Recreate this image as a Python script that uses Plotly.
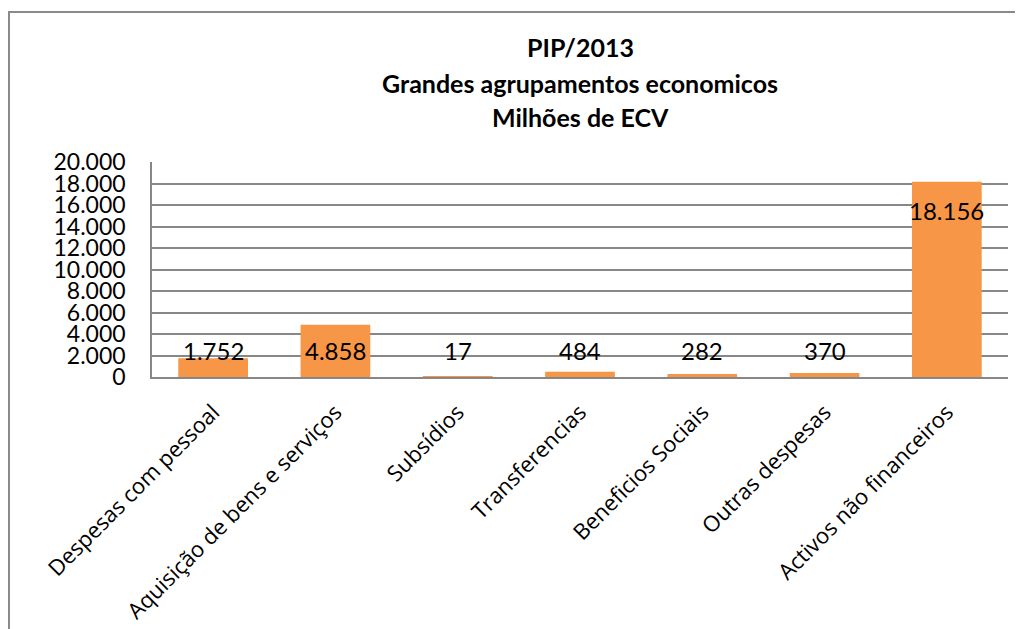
import plotly.graph_objects as go

categories = ["Despesas com pessoal", "Aquisição de bens e serviços", "Subsídios",
              "Transferencias", "Beneficios Sociais", "Outras despesas",
              "Activos não financeiros"]
values = [1752, 4858, 17, 484, 282, 370, 18156]
title_lines = ["PIP/2013", "Grandes agrupamentos economicos", "Milhões de ECV"]
y_ticks = list(range(0, 20001, 2000))

BAR = "#F79646"
GRID = "#878787"
FONT = "Lato"

fig = go.Figure()
fig.add_trace(go.Bar(x=categories, y=values, marker=dict(color=BAR, line=dict(width=0)),
                     width=0.57, hoverinfo="skip"))

# data labels (inside end, min position near base)
for c, v in zip(categories, values):
    fig.add_annotation(x=c, y=max(v - 2700, 2450), xref="x", yref="y",
                       text=f"{v:,}".replace(",", "."), showarrow=False,
                       font=dict(family=FONT, size=24, color="black"),
                       yanchor="middle")

# title lines
for t, yp in zip(title_lines, [47, 83, 117]):
    fig.add_annotation(x=0.5, xref="paper", y=(377 - yp) / 215, yref="paper",
                       xanchor="center", yanchor="middle", text=f"<b>{t}</b>",
                       showarrow=False, font=dict(family=FONT, size=25, color="black"))

# outer chart border
fig.add_shape(type="rect", xref="paper", yref="paper",
              x0=(9 - 152) / 856, x1=1.5, y0=-3, y1=(377 - 12) / 215,
              line=dict(color="#8a8a8a", width=2), fillcolor="rgba(0,0,0,0)", layer="below")

# page body has an 8px margin, so the figure is offset by 8px
fig.update_layout(
    width=1015, height=621,
    margin=dict(l=144, r=15, t=154, b=252),
    paper_bgcolor="white", plot_bgcolor="white",
    separators=",.",
    showlegend=False,
)
fig.update_yaxes(range=[0, 20000], tickvals=y_ticks, tickformat=",d",
                 showgrid=True, gridcolor=GRID, gridwidth=1.5,
                 showline=True, linecolor=GRID, linewidth=1.5,
                 zeroline=False, ticks="", ticklabelstandoff=20, automargin=False,
                 tickfont=dict(family=FONT, size=23, color="black"))
fig.update_xaxes(tickangle=-45, showline=True, linecolor=GRID, linewidth=1.5,
                 ticks="", ticklabelstandoff=12, automargin=False,
                 tickfont=dict(family="Open Sans", size=22, color="black"))

fig.write_html("out.html")
